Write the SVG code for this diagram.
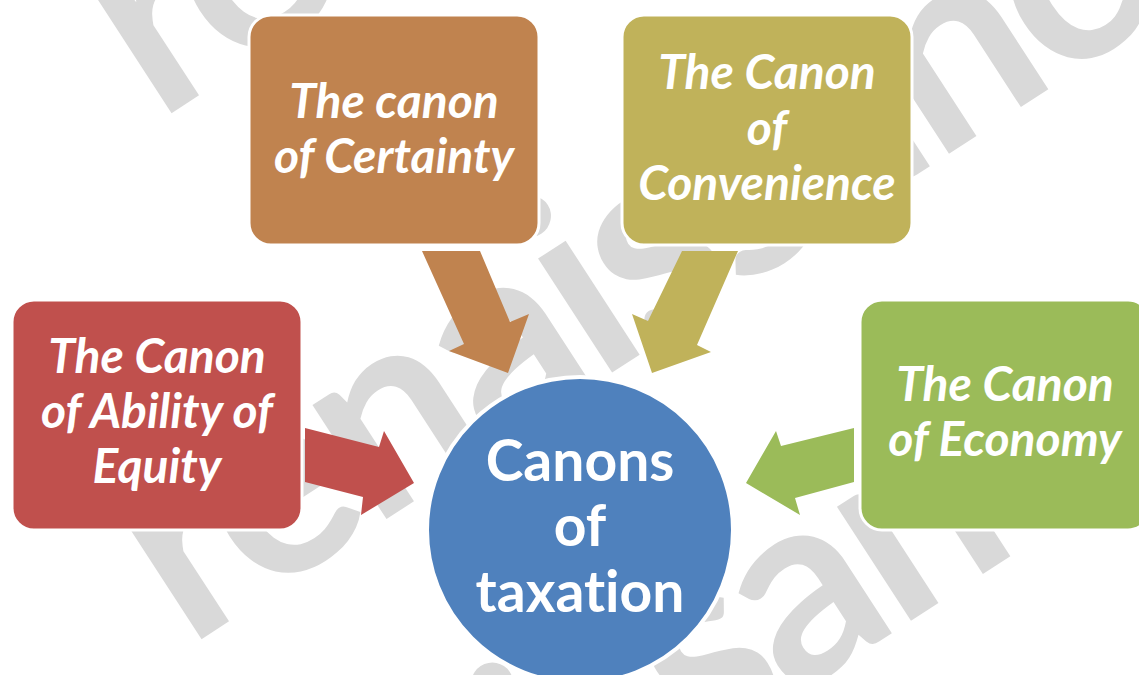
<svg xmlns="http://www.w3.org/2000/svg" width="1139" height="675" viewBox="0 0 1139 675">
<style>
text{font-variant-ligatures:none;font-feature-settings:"liga" 0,"clig" 0,"dlig" 0}
.wm{font-family:Lato,"Open Sans","Liberation Sans",sans-serif;font-weight:bold;font-size:265px;letter-spacing:-8px;fill:#D9D9D9}
.box{stroke:#FFFFFF;stroke-width:3}
.lbl{font-family:Lato,"Open Sans","Liberation Sans",sans-serif;font-weight:bold;font-style:italic;font-size:48px;fill:#FFFFFF;text-anchor:middle}
.ctr{font-family:Lato,"Open Sans","Liberation Sans",sans-serif;font-weight:bold;font-size:57px;fill:#FFFFFF;text-anchor:middle}
</style>
<rect width="1139" height="675" fill="#FFFFFF"/>
<g id="watermark">
<text class="wm" x="158" y="122" transform="rotate(-33 158 122)">renaissance</text>
<text class="wm" x="188" y="648" transform="rotate(-33 188 648)">renaissance</text>
<text class="wm" x="150" y="1115" transform="rotate(-33 150 1115)">renaissance</text>
</g>
<g id="connectors">
<polygon points="422,251 480,251 510,322 529,314 508,373 449,351 464,344" fill="#C0834F"/>
<polygon points="682,251 738,251 697,345 711,352 652,373 632,314 648,321" fill="#C0B25A"/>
<polygon points="305,428 379,447 384,431 414,483 361,515 363,497 305,482" fill="#C0504D"/>
<polygon points="854,428 854,482 795,498 800,515 746,483 776,431 781,446" fill="#9BBB59"/>
</g>
<g id="certainty">
<rect class="box" x="249" y="15" width="290" height="230" rx="22" fill="#C0834F"/>
<text class="lbl" x="394" y="118">The canon</text>
<text class="lbl" x="394" y="173">of Certainty</text>
</g>
<g id="convenience">
<rect class="box" x="622" y="15" width="290" height="230" rx="22" fill="#C0B25A"/>
<text class="lbl" x="767" y="89">The Canon</text>
<text class="lbl" x="767" y="145">of</text>
<text class="lbl" x="767" y="200">Convenience</text>
</g>
<g id="equity">
<rect class="box" x="12" y="300" width="290" height="230" rx="22" fill="#C0504D"/>
<text class="lbl" x="157" y="373">The Canon</text>
<text class="lbl" x="157" y="428">of Ability of</text>
<text class="lbl" x="157" y="483">Equity</text>
</g>
<g id="economy">
<rect class="box" x="860" y="300" width="290" height="230" rx="22" fill="#9BBB59"/>
<text class="lbl" x="1005" y="401">The Canon</text>
<text class="lbl" x="1005" y="456">of Economy</text>
</g>
<g id="center">
<circle cx="580" cy="530" r="153" fill="#4F81BD" stroke="#FFFFFF" stroke-width="4"/>
<text class="ctr" x="580" y="481">Canons</text>
<text class="ctr" x="580" y="546">of</text>
<text class="ctr" x="580" y="612">taxation</text>
</g>
</svg>
